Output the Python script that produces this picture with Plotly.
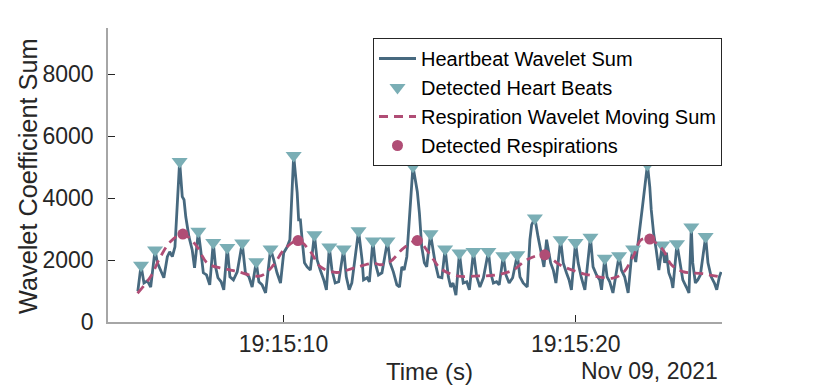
import pandas as pd
import plotly.graph_objects as go

# seconds after 19:15:00 on 09-Nov-2021
t0 = pd.Timestamp("2021-11-09 19:15:00")

hb_t = [5.02, 5.13, 5.23, 5.35, 5.46, 5.61, 5.69, 5.80, 5.91, 6.03, 6.11, 6.20, 6.29, 6.45,
        6.54, 6.60, 6.66, 6.77, 6.88, 6.96, 7.09, 7.17, 7.26, 7.37, 7.48, 7.60, 7.68, 7.76,
        7.87, 7.96, 8.08, 8.17, 8.29, 8.42, 8.59, 8.70, 8.82, 8.93, 9.07, 9.16, 9.27, 9.39,
        9.56, 9.67, 9.78, 9.90, 10.01, 10.13, 10.22, 10.35, 10.47, 10.52, 10.58, 10.64, 10.72,
        10.81, 10.92, 11.06, 11.15, 11.26, 11.38, 11.47, 11.57, 11.66, 11.77, 11.89, 12.06,
        12.15, 12.25, 12.34, 12.57, 12.69, 12.74, 12.86, 12.94, 13.06, 13.14, 13.25, 13.37,
        13.56, 13.65, 13.76, 13.88, 13.97, 14.05, 14.13, 14.22, 14.43, 14.54, 14.58, 14.65,
        14.73, 14.82, 14.90, 15.03, 15.13, 15.19, 15.30, 15.42, 15.53, 15.64, 15.72, 15.80,
        15.90, 16.02, 16.10, 16.15, 16.27, 16.36, 16.50, 16.61, 16.72, 16.84, 17.01, 17.09,
        17.18, 17.29, 17.38, 17.52, 17.61, 17.72, 17.84, 18.00, 18.09, 18.20, 18.34, 18.43,
        18.49, 18.60, 18.71, 18.83, 18.91, 19.00, 19.05, 19.14, 19.23, 19.32, 19.48, 19.57,
        19.68, 19.77, 19.85, 19.99, 20.08, 20.19, 20.31, 20.39, 20.50, 20.59, 20.71, 20.82,
        20.88, 20.99, 21.07, 21.16, 21.27, 21.48, 21.56, 21.67, 21.79, 21.90, 21.96, 22.05,
        22.18, 22.28, 22.45, 22.53, 22.58, 22.66, 22.75, 22.84, 22.96, 23.04, 23.10, 23.18,
        23.27, 23.32, 23.46, 23.55, 23.66, 23.78, 23.87, 23.95, 24.00, 24.09, 24.17, 24.26,
        24.44, 24.52, 24.63, 24.74, 24.82, 24.91, 24.97]
hb_v = [1000, 1830, 1260, 1330, 1130, 2330, 1910, 1680, 1430, 2110, 2270, 2110, 2430, 5190,
        4050, 3950, 3400, 2750, 2330, 1750, 2930, 2330, 1590, 1520, 1200, 2570, 1780, 1430,
        1300, 1040, 2410, 1460, 1360, 1620, 2550, 1590, 1460, 1130, 1950, 1300, 1200, 940,
        2360, 2010, 1590, 1260, 2240, 2430, 2660, 5380, 4180, 3300, 3300, 2660, 1910,
        1780, 1680, 2820, 2010, 1680, 1360, 1040, 2420, 1680, 1260, 1300, 2360,
        1460, 1040, 1260, 2950, 2010, 1360, 1430, 1300, 2620, 1910, 1520, 1590,
        2620, 1910, 1620, 1200, 1130, 1780, 1680, 2110, 5030, 4340, 4210, 3530,
        2430, 1910, 1780, 2850, 2240, 1910, 1460, 1430, 2360, 1460, 1130, 1260,
        870, 2230, 1590, 1260, 1300, 1040, 2280, 1460, 1130, 1430, 2280, 1590,
        1260, 1300, 1200, 2140, 1520, 1260, 1430, 2170, 1460, 1260, 1130, 2660,
        3140, 3360, 2750, 2110, 1780, 2660, 2430, 1910, 1680, 1260, 2660, 1910,
        1590, 1360, 1040, 2570, 1910, 1430, 1040, 1850, 2740, 1780, 1520, 1360,
        1040, 2060, 1460, 1300, 940, 2140, 1680, 1460, 940, 2070, 2360, 1940,
        2880, 3730, 5090, 4370, 3630, 2880, 2330, 1680, 2490, 1910, 2240, 1590,
        1360, 1100, 2530, 2010, 1360, 1130, 940, 3070, 1910, 1260, 1360, 1520,
        2760, 1910, 1460, 1260, 1040, 1460, 1620]

beat_t = [5.13, 5.61, 6.45, 7.09, 7.60, 8.08, 8.59, 9.07, 9.56, 10.35, 11.06, 11.57, 12.06,
          12.57, 13.06, 13.56, 14.43, 15.03, 15.53, 16.02, 16.50, 17.01, 17.52, 18.00, 18.60,
          19.48, 19.99, 20.50, 20.99, 21.48, 21.96, 22.45, 22.96, 23.46, 23.95, 24.44]
beat_v = [1830, 2330, 5190, 2930, 2570, 2410, 2550, 1950, 2360, 5380, 2820, 2420, 2360,
          2950, 2620, 2620, 5030, 2850, 2360, 2230, 2280, 2280, 2140, 2170, 3360,
          2660, 2570, 2740, 2060, 2140, 2360, 5090, 2490, 2530, 3070, 2760]

resp_t = [5.01, 5.46, 5.80, 6.14, 6.56, 7.00, 7.40, 7.85, 8.19, 8.42, 9.22, 9.67, 10.01,
          10.50, 10.92, 11.26, 11.81, 12.40, 13.08, 13.31, 13.65, 14.11, 14.58, 15.02, 15.36,
          15.93, 16.72, 17.29, 17.86, 18.32, 18.94, 19.45, 20.02, 20.59, 21.27, 21.61, 21.96,
          22.24, 22.53, 22.98, 23.27, 23.66, 24.34, 24.97]
resp_v = [930, 1470, 2120, 2600, 2840, 2490, 1900, 1740, 1680, 1630, 1490, 1850, 2330,
          2630, 2280, 1790, 1600, 1740, 1900, 1850, 1950, 2390, 2630, 2170, 1740,
          1490, 1490, 1520, 1680, 2010, 2170, 1850, 1630, 1490, 1420, 1580, 2120,
          2660, 2680, 2330, 1850, 1630, 1560, 1450]

breath_t = [6.56, 10.50, 14.58, 18.94, 22.53]
breath_v = [2840, 2630, 2630, 2170, 2680]


def to_time(secs):
    return [t0 + pd.Timedelta(seconds=s) for s in secs]


FONT = "Liberation Sans, Arial, sans-serif"

fig = go.Figure()

fig.add_trace(go.Scatter(
    x=to_time(hb_t), y=hb_v, mode="lines", name="Heartbeat Wavelet Sum",
    line=dict(color="#47697f", width=2.8)
))
fig.add_trace(go.Scatter(
    x=to_time(beat_t), y=beat_v, mode="markers", name="Detected Heart Beats",
    marker=dict(symbol="triangle-down", size=14, color="#7aaeb5")
))
fig.add_trace(go.Scatter(
    x=to_time(resp_t), y=resp_v, mode="lines", name="Respiration Wavelet Moving Sum",
    line=dict(color="#b04d75", width=2.8, dash="9px,6px", shape="spline")
))
fig.add_trace(go.Scatter(
    x=to_time(breath_t), y=breath_v, mode="markers", name="Detected Respirations",
    marker=dict(symbol="circle", size=11, color="#b04d75")
))

# page body has an 8px margin, so the figure is 8px smaller and shifted
fig.update_layout(
    width=822, height=383,
    margin=dict(l=100, r=108, t=20, b=69, autoexpand=False),
    plot_bgcolor="white", paper_bgcolor="white",
    font=dict(family=FONT, color="#262626", size=23),
    showlegend=True,
    legend=dict(
        x=0.4316, y=0.966, xanchor="left", yanchor="top",
        bgcolor="white", bordercolor="#262626", borderwidth=1,
        font=dict(size=20, family=FONT, color="#000000"),
        tracegroupgap=0, itemwidth=37,
    ),
    xaxis=dict(
        type="date",
        range=[t0 + pd.Timedelta(seconds=4.0), t0 + pd.Timedelta(seconds=25.0)],
        tickvals=to_time([10, 20]),
        tickformat="%H:%M:%S",
        ticks="inside", ticklen=7, tickcolor="#262626",
        showline=True, linecolor="#a6a6a6", linewidth=1.5,
        showgrid=False, zeroline=False,
        tickfont=dict(size=23),
        ticklabelstandoff=1,
        automargin=False,
    ),
    yaxis=dict(
        range=[0, 9500],
        tickvals=[0, 2000, 4000, 6000, 8000],
        ticks="inside", ticklen=7, tickcolor="#262626",
        showline=True, linecolor="#a6a6a6", linewidth=1.5,
        showgrid=False, zeroline=False,
        tickfont=dict(size=23),
        ticklabelstandoff=8,
        automargin=False,
    ),
    annotations=[
        dict(text="Wavelet Coefficient Sum", xref="paper", yref="paper",
             x=-0.1303, y=0.4966, textangle=-90, showarrow=False,
             xanchor="center", yanchor="middle", font=dict(size=25.3)),
        dict(text="Time (s)", xref="paper", yref="paper",
             x=0.5244, y=-0.1667, showarrow=False,
             xanchor="center", yanchor="middle", font=dict(size=24)),
        dict(text="Nov 09, 2021", xref="paper", yref="paper",
             x=0.9967, y=-0.1667, showarrow=False,
             xanchor="right", yanchor="middle", font=dict(size=23)),
    ],
)

fig.write_html("out.html")
